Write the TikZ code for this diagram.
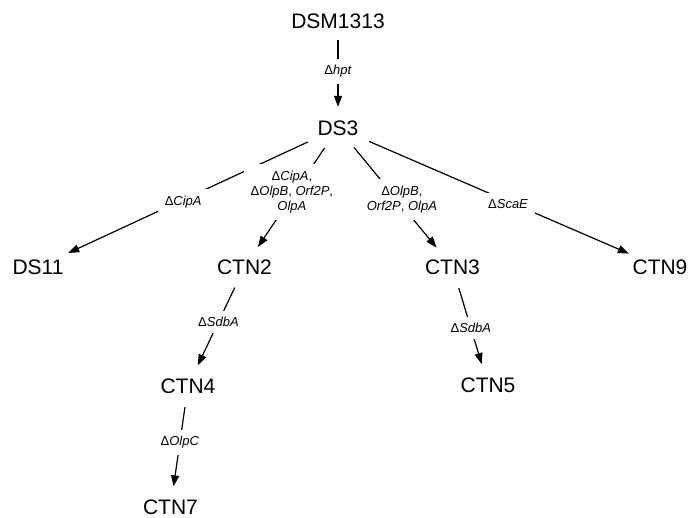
\documentclass[tikz,border=0pt]{standalone}
\usepackage{fontspec}
\setmainfont{Liberation Sans}
\usetikzlibrary{arrows.meta,shapes.geometric}
\tikzset{
  strain/.style={ellipse, inner sep=0pt, minimum width=80pt, minimum height=42pt,
    font=\fontsize{21}{24}\selectfont},
  edge/.style={draw, line width=1.2pt, -{Triangle[length=11pt,width=8pt]}},
  lab/.style={fill=white, inner sep=6.5pt, align=center,
    font=\fontsize{13}{15}\selectfont},
}
\begin{document}
\begin{tikzpicture}[x=1pt,y=-1pt]
\useasboundingbox (0,0) rectangle (690,518);
\node[strain, minimum height=36pt] (dsm) at (338,21.5) {DSM1313};
\node[strain] (ds3) at (338,128) {DS3};
\node[strain] (ds11) at (38,267) {DS11};
\node[strain] (ctn2) at (244.5,267) {CTN2};
\node[strain] (ctn3) at (452.5,267) {CTN3};
\node[strain] (ctn9) at (660,267) {CTN9};
\node[strain] (ctn4) at (188,386) {CTN4};
\node[strain] (ctn5) at (488,385) {CTN5};
\node[strain] (ctn7) at (170.5,507.5) {CTN7};

\draw[edge] (dsm) -- (ds3) node[lab, pos=0.47] (l1) {Δ\textit{hpt}};
\draw[edge] (ds3) -- (ds11) node[lab, pos=0.52, yshift=-2pt] (l2) {Δ\textit{CipA}};
\draw[edge] (ds3) -- (ctn2) node[lab, pos=0.445, xshift=-3pt] (l3)
  {Δ\textit{CipA},\\ Δ\textit{OlpB}, \textit{Orf2P},\\ \textit{OlpA}};
\draw[edge] (ds3) -- (ctn3) node[lab, pos=0.52, xshift=5pt] (l4)
  {Δ\textit{OlpB},\\ \textit{Orf2P}, \textit{OlpA}};
\draw[edge] (ds3) -- (ctn9) node[lab, pos=0.535, yshift=-3pt] (l5) {Δ\textit{ScaE}};
\draw[edge] (ctn2) -- (ctn4) node[lab, pos=0.44] (l6) {Δ\textit{SdbA}};
\draw[edge] (ctn4) -- (ctn7) node[lab, pos=0.445] (l7) {Δ\textit{OlpC}};
\draw[edge] (ctn3) -- (ctn5) node[lab, pos=0.526] (l8) {Δ\textit{SdbA}};
\end{tikzpicture}
\end{document}
